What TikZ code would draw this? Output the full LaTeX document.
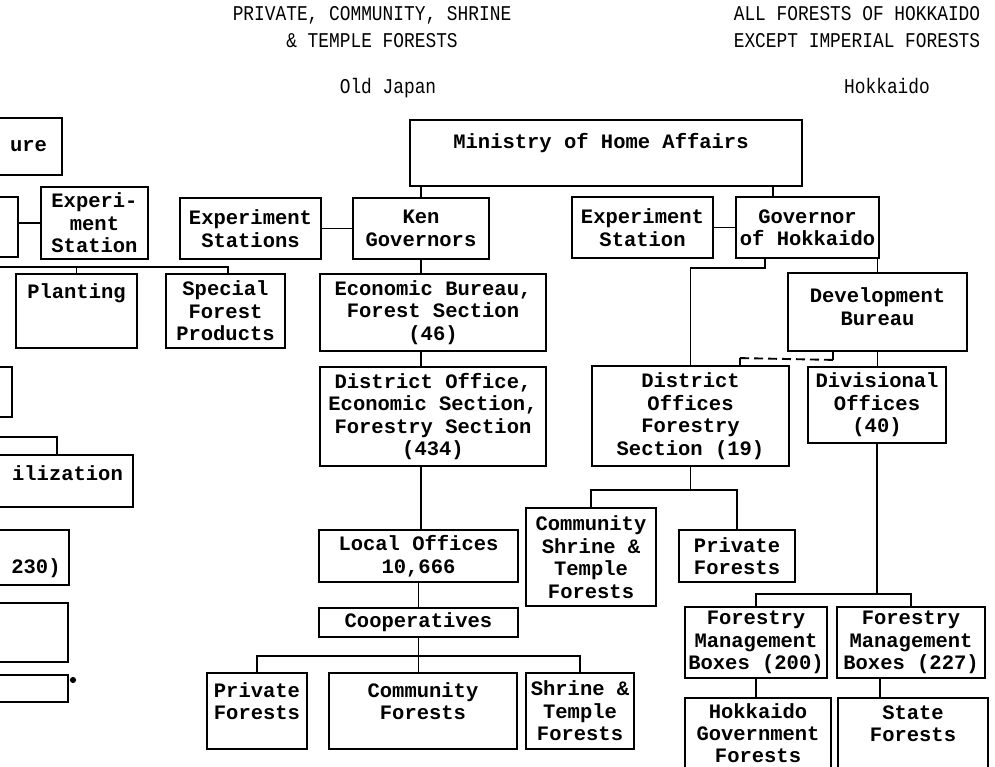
\documentclass[tikz,border=0pt]{standalone}
\usepackage{fontspec}
\newfontfamily\twfont{Liberation Mono}
\newfontfamily\hdfont[FakeStretch=0.85]{Liberation Mono}
\begin{document}
\begin{tikzpicture}[x=1pt,y=-1pt,
  bx/.style={draw, line width=1.8pt, inner sep=0pt, align=center,
    font=\twfont\bfseries\fontsize{20.5}{22.5}\selectfont},
  tx/.style={inner sep=0pt, align=center, anchor=center,
    font=\twfont\bfseries\fontsize{20.5}{22.5}\selectfont},
  ln/.style={line width=1.9pt},
  hd/.style={inner sep=0pt, anchor=base, align=center,
    font=\hdfont\fontsize{21}{27}\selectfont}]
\path[use as bounding box, fill=white] (0,0) rectangle (995,767);
\clip (0,0) rectangle (995,767);

% headings (a two-line node sits on the baseline of its last line)
\node[hd] (hleft) at (372,48) {PRIVATE, COMMUNITY, SHRINE\\\& TEMPLE FORESTS};
\node[hd] (hright) at (857,48) {ALL FORESTS OF HOKKAIDO\\EXCEPT IMPERIAL FORESTS};
\node[hd] (hold) at (388,94) {Old Japan};
\node[hd] (hhok) at (887,94) {Hokkaido};

% left column (cut at the page edge)
\node[bx, minimum width=67, minimum height=57] (agri) at (28.5,146.5) {ure};
\node[bx, minimum width=78, minimum height=60] (ms) at (-21,227) {};
\node[bx, minimum width=107, minimum height=72] (exps1) at (94.5,223) {Experi-\\ment\\Station};
\node[bx, minimum width=121, minimum height=74,
  label={[tx, yshift=18pt]center:Planting}] (plant) at (76.5,311) {};
\node[bx, minimum width=119, minimum height=74] (sfp) at (225.5,311) {Special\\Forest\\Products};
\node[bx, minimum width=72, minimum height=50] (b1) at (-24,392) {};
\node[bx, minimum width=153, minimum height=52,
  label={[tx, xshift=11pt, yshift=8pt]center:ilization}] (util) at (56.5,481) {};
\node[bx, minimum width=169, minimum height=55,
  label={[tx, xshift=51.5pt, yshift=-10.5pt]center:230)}] (c230) at (-15.5,557.5) {};
\node[bx, minimum width=168, minimum height=59] (b5) at (-16,632.5) {};
\node[bx, minimum width=168, minimum height=27] (b6) at (-16,688.5) {};
\node[circle, fill, inner sep=2.2pt] (blot) at (73,680) {};

\coordinate (hl) at (-10,267);
\coordinate (uin) at (-10,437);
\draw[ln] (exps1.west) -- (exps1.west -| ms.east);
\draw[ln] (hl) -| ([xshift=2.5pt]sfp.north);
\draw[ln] (plant.north) -- (plant.north |- hl);
\draw[ln] (uin) -| ([xshift=0.5pt]util.north);

% Old Japan
\node[bx, minimum width=392, minimum height=66,
  label={[tx, xshift=-5pt, yshift=10pt]center:Ministry of Home Affairs}] (mha) at (606,153) {};
\node[bx, minimum width=141, minimum height=61] (expss) at (250.5,228.5) {Experiment\\Stations};
\node[bx, minimum width=136, minimum height=61] (ken) at (421,228.5) {Ken\\Governors};
\node[bx, minimum width=226, minimum height=77] (econ) at (433,312.5) {Economic Bureau,\\Forest Section\\(46)};
\node[bx, minimum width=226, minimum height=99] (dist) at (433,416.5) {District Office,\\Economic Section,\\Forestry Section\\(434)};
\node[bx, minimum width=199, minimum height=52] (local) at (418.5,556) {Local Offices\\10,666};
\node[bx, minimum width=199, minimum height=29] (coop) at (418.5,622.5) {Cooperatives};
\node[bx, minimum width=100, minimum height=76,
  label={[tx, yshift=10pt]center:Private\\Forests}] (pf1) at (257,711) {};
\node[bx, minimum width=188, minimum height=76,
  label={[tx, yshift=10pt]center:Community\\Forests}] (cf) at (423,711) {};
\node[bx, minimum width=108, minimum height=76] (stf) at (580,711) {Shrine \&\\Temple\\Forests};

\draw[ln] (expss.east) -- (ken.west);
\draw[ln] (ken.north) -- (ken.north |- mha.south);
\draw[ln] (ken.south) -- (ken.south |- econ.north);
\draw[ln] (econ.south -| ken.south) -- (dist.north -| ken.south);
\draw[ln] (dist.south -| ken.south) -- (local.north -| ken.south);
\draw[ln] (local.south) -- (coop.north);
\draw[ln] (coop.south) -- (coop.south |- cf.north);
\draw[ln] (coop.south) -- ++(0,18) coordinate (cbar);
\draw[ln] (pf1.north) |- (cbar) -| (stf.north);

% Hokkaido
\node[bx, minimum width=141, minimum height=61] (exph) at (642.5,227.5) {Experiment\\Station};
\node[bx, minimum width=143, minimum height=61] (gov) at (807.5,227.5) {Governor\\of Hokkaido};
\node[bx, minimum width=179, minimum height=78,
  label={[tx, yshift=5.5pt]center:Development\\Bureau}] (dev) at (877.5,312) {};
\node[bx, minimum width=197, minimum height=100] (dof) at (690.5,416) {District\\Offices\\Forestry\\Section (19)};
\node[bx, minimum width=138, minimum height=76] (div) at (877,405) {Divisional\\Offices\\(40)};
\node[bx, minimum width=130, minimum height=98] (cst) at (591,557) {Community\\Shrine \&\\Temple\\Forests};
\node[bx, minimum width=116, minimum height=52] (pf2) at (737,556) {Private\\Forests};
\node[bx, minimum width=142, minimum height=71] (fmb1) at (756,642.5) {Forestry\\Management\\Boxes (200)};
\node[bx, minimum width=148, minimum height=71] (fmb2) at (911,642.5) {Forestry\\Management\\Boxes (227)};
\node[bx, minimum width=146, minimum height=77,
  label={[tx, yshift=3.5pt, font=\twfont\bfseries\fontsize{20.5}{22}\selectfont]center:Hokkaido\\Government\\Forests}] (hgf) at (758,736.5) {};
\node[bx, minimum width=150, minimum height=77,
  label={[tx, yshift=13pt]center:State\\Forests}] (sf) at (913,736.5) {};

\draw[ln] (exph.east) -- (gov.west);
\draw[ln] ([xshift=-34.5pt]gov.north) -- ([xshift=-34.5pt]gov.north |- mha.south);
\draw[ln] ([xshift=-42.5pt]gov.south) -- ++(0,9) -| (dof.north);
\draw[ln] (dev.north) -- (dev.north |- gov.south);
\draw[ln] (dev.south) -- (dev.south |- div.north);
\draw[ln] ([xshift=-44.5pt]dev.south) -- ++(0,8) coordinate (dashR);
\draw[ln] ([xshift=49.5pt]dof.north) -- ++(0,-7) coordinate (dashL);
\draw[ln, dash pattern=on 9pt off 5pt] (dashL) -- (dashR);
\draw[ln] (dof.south) -- ++(0,23) coordinate (dbar);
\draw[ln] (cst.north) |- (dbar) -| (pf2.north);
\draw[ln] (div.south) -- ++(0,150) coordinate (vbar);
\draw[ln] (fmb1.north) |- (vbar) -| (fmb2.north);
\draw[ln] (fmb1.south) -- (fmb1.south |- hgf.north);
\draw[ln] ([xshift=-31pt]fmb2.south) -- ([xshift=-31pt]fmb2.south |- sf.north);
\end{tikzpicture}
\end{document}
